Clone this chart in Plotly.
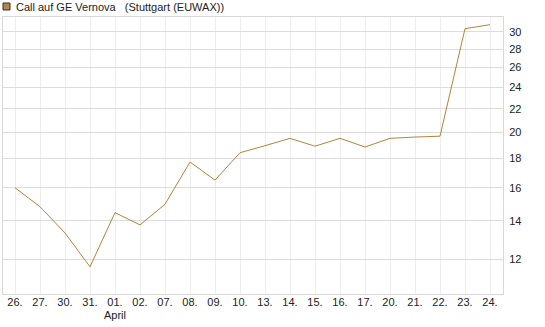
import math
import plotly.graph_objects as go

dates = ["26.", "27.", "30.", "31.", "01.", "02.", "07.", "08.", "09.", "10.",
         "13.", "14.", "15.", "16.", "17.", "20.", "21.", "22.", "23.", "24."]
month_label = "April"
month_at = "01."
prices = [16.0, 14.82, 13.33, 11.63, 14.47, 13.77, 14.97, 17.75, 16.5, 18.43,
          18.96, 19.53, 18.92, 19.53, 18.86, 19.53, 19.63, 19.7, 30.4, 30.9]
y_ticks = [12, 14, 16, 18, 20, 22, 24, 26, 28, 30]
title_text = "Call auf GE Vernova\u00a0\u00a0\u00a0(Stuttgart (EUWAX))"

line_color = "#B5823A"

fig = go.Figure()
fig.add_trace(go.Scatter(x=dates, y=prices, mode="lines",
                         line=dict(color=line_color, width=1), showlegend=False,
                         hoverinfo="skip"))

fig.update_layout(
    width=545, height=327,
    margin=dict(l=3, r=42, t=17, b=33),
    paper_bgcolor="white", plot_bgcolor="white",
    font=dict(family="Liberation Sans, Arial, sans-serif", size=11, color="#222222"),
    showlegend=False,
    xaxis=dict(type="category", categoryorder="array", categoryarray=dates,
               tickmode="array", tickvals=dates, ticktext=dates,
               range=[-0.48, 19.52], showgrid=True, gridcolor="#ededed", gridwidth=1,
               showline=True, linecolor="#d8d8d8", linewidth=1, mirror=True,
               ticks="", zeroline=False, fixedrange=True, ticklabelstandoff=-2),
    yaxis=dict(type="log", side="right",
               range=[math.log10(10.42), math.log10(31.87)],
               tickmode="array", tickvals=y_ticks, ticktext=[str(t) for t in y_ticks],
               showgrid=True, gridcolor="#dcdcdc", gridwidth=1,
               showline=True, linecolor="#d8d8d8", linewidth=1, mirror=True,
               ticks="", zeroline=False, fixedrange=True, ticklabelstandoff=3),
)

fig.add_annotation(xref="x", yref="paper", x=dates.index(month_at), y=-0.075,
                   xanchor="center", yanchor="middle", showarrow=False,
                   text=month_label, font=dict(size=11, color="#222222"))

fig.add_shape(type="rect", xref="paper", yref="paper",
              x0=0.0, x1=0.014, y0=1.0253, y1=1.0505,
              fillcolor="#B5884A", line=dict(color="#333333", width=1))
fig.add_annotation(xref="paper", yref="paper", x=0.022, y=1.037,
                   xanchor="left", yanchor="middle", showarrow=False,
                   text=title_text, font=dict(size=11, color="#222222"))

fig.write_html("out.html")
